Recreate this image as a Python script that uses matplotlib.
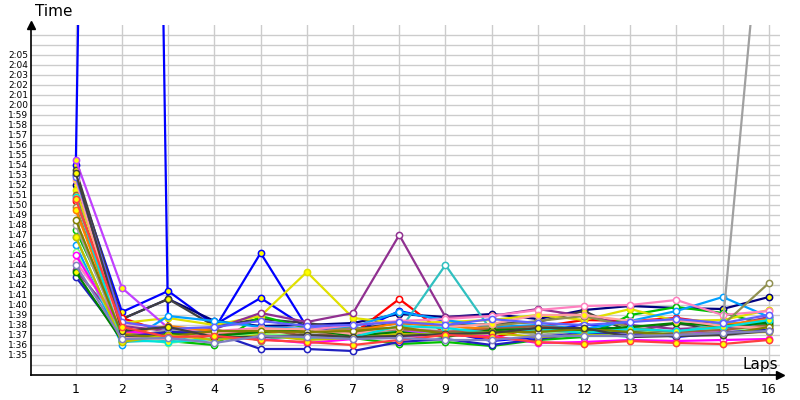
import matplotlib
matplotlib.use("Agg")
import matplotlib.pyplot as plt
import numpy as np

laps = list(range(1, 17))

# lap times in seconds, one list per driver: (line colour, marker face, times)
colors = ['#0000ff', '#0000ff', '#000080', '#404040', '#ff0000', '#00c000', '#e0e000',
          '#c040ff', '#903090', '#30c0c0', '#00a0ff', '#ff80c0', '#909050', '#a0a0a0',
          '#ff8000', '#80ff80', '#a06040', '#ff00ff', '#2020c0', '#008000', '#ffa0a0',
          '#00e0e0', '#808000', '#6060ff', '#c0c000', '#404040', '#ff4040', '#8080c0']
faces = ['yellow', 'yellow', 'yellow', 'yellow', 'white', 'white', 'yellow',
         'yellow', 'white', 'white', 'white', 'white', 'white', 'white',
         'yellow', 'white', 'yellow', 'white', 'white', 'yellow', 'yellow',
         'yellow', 'white', 'white', 'yellow', 'yellow', 'yellow', 'white']
times = [
    [114.0, 400.0, 96.8, 97.6, 105.2, 97.8, 97.6, 97.6, 97.3, 96.4, 96.8, 97.4, 97.0, 97.3, 97.6, 98.3],
    [113.0, 99.3, 101.4, 98.0, 100.7, 97.7, 97.2, 99.4, 98.4, 97.8, 97.2, 98.1, 97.4, 96.8, 97.2, 97.6],
    [112.0, 98.6, 100.6, 98.4, 97.9, 98.0, 98.2, 99.1, 98.8, 99.1, 98.6, 99.5, 99.9, 99.7, 99.6, 100.8],
    [113.5, 98.6, 100.6, 97.9, 98.6, 98.2, 97.6, 98.2, 97.9, 98.1, 98.3, 99.4, 97.3, 98.2, 97.4, 98.5],
    [110.4, 98.7, 97.2, 96.5, 97.1, 96.8, 97.1, 100.6, 97.1, 96.7, 97.8, 98.5, 98.4, 98.7, 98.1, 97.5],
    [107.5, 97.6, 96.4, 96.0, 98.9, 97.7, 96.7, 96.1, 96.3, 95.9, 96.5, 96.8, 99.0, 99.8, 99.2, 98.0],
    [111.5, 98.2, 98.7, 98.0, 98.9, 103.3, 98.7, 98.2, 98.3, 98.5, 99.0, 98.5, 99.6, 98.4, 98.5, 99.5],
    [114.5, 101.7, 97.7, 97.1, 97.3, 97.7, 97.6, 97.4, 97.2, 97.5, 97.6, 97.4, 97.2, 97.1, 97.3, 97.6],
    [103.5, 97.9, 97.4, 97.6, 99.2, 98.3, 99.2, 107.0, 98.8, 98.9, 99.6, 98.9, 98.0, 97.6, 97.8, 98.8],
    [106.8, 96.3, 96.5, 97.1, 97.0, 96.6, 96.9, 97.4, 104.0, 97.4, 97.9, 97.2, 96.8, 97.2, 98.3, 97.9],
    [106.0, 96.0, 98.9, 98.4, 97.8, 97.6, 97.8, 99.3, 98.5, 97.8, 98.0, 97.6, 98.4, 99.4, 100.8, 98.8],
    [104.3, 98.2, 97.7, 97.4, 97.7, 97.5, 98.0, 98.4, 98.6, 98.9, 99.5, 99.9, 100.0, 100.5, 99.0, 99.4],
    [109.8, 97.2, 96.9, 97.6, 96.4, 97.2, 97.7, 97.6, 97.3, 97.9, 98.4, 98.9, 97.8, 97.2, 98.0, 102.2],
    [108.0, 96.7, 97.5, 97.0, 97.6, 97.3, 97.0, 97.6, 97.4, 97.7, 97.0, 97.4, 97.2, 97.3, 98.0, 148.0],
    [109.5, 97.1, 97.9, 97.4, 97.2, 97.4, 97.4, 98.2, 97.9, 97.6, 97.4, 97.4, 97.5, 97.2, 98.0, 98.6],
    [105.3, 96.9, 96.2, 96.7, 97.1, 96.9, 97.2, 97.0, 97.2, 97.3, 97.3, 97.4, 97.4, 97.3, 97.6, 97.5],
    [111.0, 96.6, 97.3, 97.0, 97.6, 96.9, 97.3, 97.6, 97.3, 97.6, 97.9, 97.5, 97.6, 97.3, 97.5, 98.0],
    [105.0, 97.4, 97.0, 96.9, 96.6, 96.2, 96.6, 96.9, 97.0, 96.9, 96.2, 96.3, 96.5, 96.4, 96.5, 96.6],
    [102.8, 96.8, 97.3, 97.2, 95.6, 95.6, 95.4, 96.3, 96.6, 96.0, 96.6, 97.2, 97.3, 97.0, 97.2, 97.6],
    [103.3, 96.4, 97.1, 96.9, 97.3, 97.6, 96.9, 97.3, 96.8, 97.5, 97.6, 97.5, 97.8, 98.2, 97.9, 98.2],
    [112.5, 96.7, 96.6, 97.2, 97.6, 97.6, 97.1, 97.7, 97.8, 98.1, 99.0, 99.0, 98.4, 98.5, 97.9, 97.7],
    [110.8, 96.5, 96.3, 96.6, 96.8, 96.7, 96.8, 97.9, 97.7, 97.2, 97.6, 97.2, 97.6, 97.4, 97.8, 98.5],
    [108.5, 97.0, 96.8, 97.4, 97.4, 97.3, 97.4, 97.8, 97.1, 97.3, 97.3, 97.6, 97.3, 97.0, 97.0, 97.8],
    [112.8, 98.3, 97.6, 97.8, 98.4, 97.9, 98.0, 98.3, 98.0, 98.6, 98.2, 98.0, 98.3, 98.6, 98.2, 99.0],
    [106.8, 96.3, 97.0, 96.5, 97.0, 96.5, 96.7, 97.1, 97.0, 97.2, 96.8, 97.0, 96.9, 97.0, 97.2, 97.3],
    [113.2, 97.4, 97.8, 96.8, 96.8, 97.0, 96.8, 96.9, 97.1, 97.2, 97.7, 97.7, 96.8, 96.9, 97.0, 97.4],
    [110.6, 97.8, 96.8, 96.9, 96.5, 96.3, 96.0, 96.5, 97.0, 96.8, 96.3, 96.1, 96.4, 96.2, 96.1, 96.5],
    [104.0, 96.6, 96.7, 96.2, 96.9, 96.8, 96.6, 96.7, 96.5, 96.5, 96.9, 96.9, 96.9, 97.0, 97.2, 97.4],
]

y_ticks = list(range(95, 126))
y_labels = ["%d:%02d" % (t // 60, t % 60) for t in y_ticks]

fig = plt.figure(figsize=(8, 4), dpi=100)
ax = fig.add_axes([31 / 800, 25 / 400, 749 / 800, 350 / 400])

for c, f, t in zip(colors, faces, times):
    ax.plot(laps, t, color=c, lw=1.6, marker='o', ms=4.5, mfc=f, mec=c, mew=1.1, zorder=3)

ax.set_xlim(0.03, 16.24)
ax.set_ylim(93, 128)
ax.set_xticks(laps)
ax.set_yticks(y_ticks)
ax.set_yticklabels(y_labels)
ax.set_yticks(range(94, 128), minor=True)
ax.grid(True, which='both', color='#cccccc', lw=1)
ax.set_axisbelow(True)
ax.tick_params(axis='y', which='both', length=0, labelsize=6.5, pad=2)
ax.tick_params(axis='x', length=0, labelsize=9, pad=6)
for s in ['top', 'right']:
    ax.spines[s].set_visible(False)
ax.spines['left'].set_linewidth(1.2)
ax.spines['bottom'].set_linewidth(1.2)
ax.plot(1, 0, '>k', ms=6, transform=ax.transAxes, clip_on=False)
ax.plot(0, 1, '^k', ms=6, transform=ax.transAxes, clip_on=False)

fig.text(35 / 800, 1 - 12 / 400, 'Time', fontsize=11, va='center')
fig.text(742 / 800, 1 - 365 / 400, 'Laps', fontsize=11, va='center')

fig.savefig('out.png', dpi=100)
